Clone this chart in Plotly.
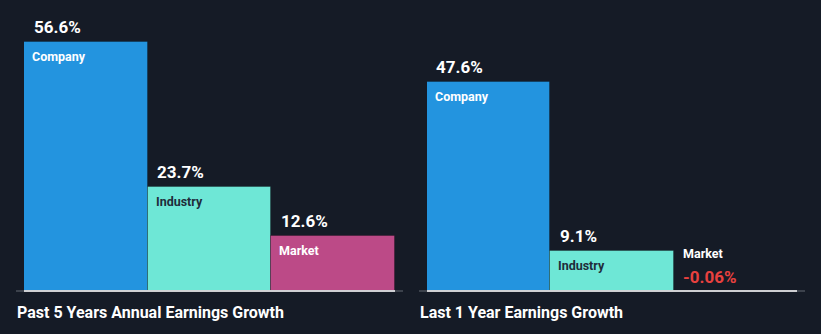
import plotly.graph_objects as go

categories = ["Company", "Industry", "Market"]
past5_values = [56.6, 23.7, 12.6]
last1_values = [47.6, 9.1, -0.06]
panel_titles = ["Past 5 Years Annual Earnings Growth", "Last 1 Year Earnings Growth"]

W, H = 821, 334
BG = "#151b26"
bar_colors = ["#2394df", "#6ee7d6", "#bc4a87"]
name_colors = ["#ffffff", "#1f2d3a", "#ffffff"]
FONT = "Roboto, Arial, sans-serif"

# pixel layout
left_dom = (24 / W, 395 / W)
right_dom = (427 / W, 797 / W)
base_px = 291
px_per_unit = 4.4
y_range = [-(H - base_px) / px_per_unit, base_px / px_per_unit]

fig = go.Figure()
xs = list(range(len(categories)))

for vals, xa in [(past5_values, "x"), (last1_values, "x2")]:
    fig.add_trace(go.Bar(
        x=xs, y=[max(v, 0) for v in vals], xaxis=xa, yaxis="y",
        marker=dict(color=bar_colors, line=dict(color="rgba(0,0,0,0.25)", width=1)),
        width=1.0, hoverinfo="skip", showlegend=False,
    ))

annotations = []
for vals, xa in [(past5_values, "x"), (last1_values, "x2")]:
    for i, (cat, v) in enumerate(zip(categories, vals)):
        txt = f"{v:g}%" if abs(v) >= 0.1 else f"{v:.2f}%"
        if v > 0:
            annotations.append(dict(
                x=i - 0.5, y=v, xref=xa, yref="y", text=txt, showarrow=False,
                xanchor="left", yanchor="bottom", xshift=7.5, yshift=3,
                font=dict(family=FONT, size=17, color="#ffffff", weight=700)))
            annotations.append(dict(
                x=i - 0.5, y=v, xref=xa, yref="y", text=cat, showarrow=False,
                xanchor="left", yanchor="top", xshift=6, yshift=-5,
                font=dict(family=FONT, size=12.5, color=name_colors[i], weight=700)))
        else:
            annotations.append(dict(
                x=i - 0.5, y=0, xref=xa, yref="y", text=txt, showarrow=False,
                xanchor="left", yanchor="bottom", xshift=7, yshift=2,
                font=dict(family=FONT, size=17, color="#e8413f", weight=700)))
            annotations.append(dict(
                x=i - 0.5, y=0, xref=xa, yref="y", text=cat, showarrow=False,
                xanchor="left", yanchor="bottom", xshift=7, yshift=28,
                font=dict(family=FONT, size=12.5, color="#ffffff", weight=700)))

for title, dom in zip(panel_titles, [left_dom, right_dom]):
    annotations.append(dict(
        x=dom[0] - 9.5 / W, y=(H - 312) / H, xref="paper", yref="paper", text=title,
        showarrow=False, xanchor="left", yanchor="middle",
        font=dict(family=FONT, size=16, color="#ffffff", weight=700)))

shapes = []
for dom, xa in [(left_dom, "x"), (right_dom, "x2")]:
    shapes.append(dict(type="line", xref="paper", yref="y",
                       x0=dom[0] - 8 / W, x1=dom[1] + 8 / W, y0=0, y1=0,
                       line=dict(color="#4a505a", width=1.5), layer="above"))
    shapes.append(dict(type="line", xref=xa, yref="y",
                       x0=-0.5, x1=2.5, y0=0, y1=0,
                       line=dict(color="#ffffff", width=1.5), layer="above"))

axis_common = dict(showgrid=False, zeroline=False, showticklabels=False, ticks="",
                   showline=False, range=[-0.5, 2.5], fixedrange=True)
fig.update_layout(
    width=W, height=H, paper_bgcolor=BG, plot_bgcolor=BG,
    margin=dict(l=0, r=0, t=0, b=0),
    bargap=0,
    xaxis=dict(domain=list(left_dom), anchor="y", **axis_common),
    xaxis2=dict(domain=list(right_dom), anchor="y", **axis_common),
    yaxis=dict(domain=[0, 1], range=y_range, showgrid=False, zeroline=False,
               showticklabels=False, ticks="", showline=False, fixedrange=True),
    annotations=annotations, shapes=shapes,
)

fig.write_html("out.html")
